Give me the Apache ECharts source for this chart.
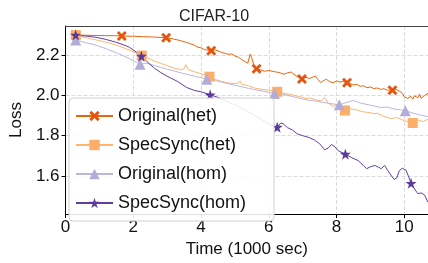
<!DOCTYPE html>
<html>
<head>
<meta charset="utf-8">
<script src="https://cdn.jsdelivr.net/npm/echarts@6/dist/echarts.min.js"></script>
<style>
  html, body { margin: 0; padding: 0; background: #fff; }
  #chart { width: 428px; height: 263px; }
</style>
</head>
<body>
<div id="chart"></div>
<script>
// 曲线数据 [时间(1000 sec), loss]
const originalHet = [
  [0.3,2.300],[0.6,2.299],[0.9,2.298],[1.2,2.297],[1.45,2.297],[1.66,2.295],[2.0,2.294],[2.3,2.292],[2.6,2.290],[2.97,2.287],
  [3.2,2.280],[3.4,2.272],[3.6,2.262],[3.8,2.250],[3.9,2.240],[4.0,2.236],[4.1,2.228],[4.2,2.225],[4.3,2.222],[4.4,2.226],
  [4.5,2.222],[4.6,2.214],[4.7,2.210],[4.8,2.204],[4.9,2.206],[5.0,2.196],[5.1,2.190],[5.2,2.178],[5.3,2.168],[5.38,2.160],
  [5.45,2.205],[5.5,2.185],[5.56,2.150],[5.64,2.132],[5.75,2.128],[5.87,2.120],[6.0,2.124],[6.16,2.118],[6.3,2.114],[6.45,2.105],
  [6.55,2.112],[6.66,2.116],[6.8,2.098],[6.98,2.081],[7.1,2.090],[7.2,2.084],[7.38,2.096],[7.45,2.080],[7.53,2.064],[7.62,2.074],
  [7.7,2.080],[7.8,2.068],[7.9,2.063],[8.0,2.072],[8.1,2.066],[8.2,2.069],[8.31,2.063],[8.4,2.060],[8.5,2.052],[8.6,2.055],
  [8.7,2.045],[8.8,2.048],[8.9,2.038],[9.0,2.042],[9.1,2.034],[9.2,2.037],[9.3,2.030],[9.4,2.033],[9.5,2.026],[9.65,2.026],
  [9.75,2.030],[9.85,2.022],[9.95,2.010],[10.0,1.992],[10.05,2.000],[10.1,1.986],[10.2,1.995],[10.25,1.982],[10.3,1.998],[10.4,1.988],
  [10.45,2.006],[10.5,1.985],[10.6,2.000],[10.65,1.992],[10.7,2.010]
];
const specSyncHet = [
  [0.3,2.300],[0.5,2.290],[0.7,2.283],[0.9,2.276],[1.1,2.268],[1.3,2.260],[1.5,2.250],[1.7,2.238],[1.9,2.224],[2.1,2.210],
  [2.25,2.198],[2.4,2.188],[2.6,2.172],[2.8,2.160],[3.0,2.148],[3.2,2.136],[3.4,2.128],[3.5,2.132],[3.55,2.153],[3.62,2.128],
  [3.8,2.118],[4.0,2.108],[4.25,2.093],[4.4,2.080],[4.6,2.070],[4.8,2.062],[5.0,2.058],[5.1,2.062],[5.15,2.072],[5.2,2.055],
  [5.4,2.048],[5.6,2.036],[5.8,2.030],[6.0,2.026],[6.25,2.018],[6.4,2.012],[6.6,2.006],[6.8,1.998],[7.0,1.990],[7.1,1.984],
  [7.2,1.988],[7.4,1.978],[7.55,1.972],[7.65,1.990],[7.75,1.962],[7.9,1.945],[8.0,1.955],[8.1,1.938],[8.25,1.925],[8.4,1.934],
  [8.6,1.928],[8.8,1.918],[9.0,1.914],[9.1,1.908],[9.2,1.912],[9.4,1.895],[9.6,1.885],[9.8,1.890],[10.0,1.874],[10.25,1.863],
  [10.4,1.878],[10.55,1.870],[10.7,1.882]
];
const originalHom = [
  [0.3,2.275],[0.6,2.262],[0.9,2.250],[1.2,2.232],[1.5,2.212],[1.8,2.190],[2.0,2.172],[2.2,2.155],[2.4,2.160],[2.6,2.150],
  [2.8,2.140],[3.0,2.130],[3.2,2.122],[3.4,2.112],[3.6,2.104],[3.8,2.096],[4.0,2.088],[4.17,2.080],[4.4,2.076],[4.6,2.066],
  [4.8,2.058],[5.0,2.050],[5.2,2.043],[5.4,2.035],[5.6,2.028],[5.8,2.022],[6.0,2.015],[6.17,2.010],[6.4,2.006],[6.6,1.998],
  [6.8,1.990],[7.0,1.982],[7.2,1.975],[7.4,1.972],[7.6,1.965],[7.8,1.960],[8.08,1.953],[8.3,1.965],[8.5,1.975],[8.7,1.962],
  [8.9,1.955],[9.1,1.948],[9.3,1.940],[9.5,1.942],[9.7,1.932],[9.9,1.928],[10.03,1.924],[10.2,1.915],[10.4,1.905],[10.55,1.900],
  [10.7,1.895]
];
const specSyncHom = [
  [0.3,2.300],[0.6,2.295],[0.9,2.289],[1.2,2.278],[1.48,2.265],[1.7,2.252],[1.88,2.240],[2.05,2.220],[2.24,2.195],[2.4,2.168],
  [2.62,2.136],[2.8,2.115],[3.0,2.095],[3.1,2.087],[3.3,2.070],[3.58,2.039],[3.8,2.025],[4.0,2.018],[4.27,2.003],[4.5,1.990],
  [4.8,1.968],[5.1,1.945],[5.4,1.918],[5.7,1.890],[5.9,1.868],[6.02,1.855],[6.25,1.842],[6.35,1.862],[6.42,1.860],[6.55,1.840],
  [6.7,1.828],[6.85,1.808],[7.0,1.800],[7.2,1.790],[7.35,1.778],[7.5,1.760],[7.65,1.730],[7.75,1.738],[7.85,1.756],[7.95,1.745],
  [8.05,1.725],[8.26,1.708],[8.45,1.690],[8.64,1.676],[8.8,1.650],[8.89,1.636],[9.0,1.645],[9.13,1.652],[9.25,1.642],[9.32,1.636],
  [9.42,1.652],[9.5,1.630],[9.6,1.605],[9.7,1.582],[9.78,1.590],[9.85,1.625],[9.94,1.638],[10.05,1.628],[10.12,1.600],[10.2,1.563],
  [10.3,1.535],[10.4,1.512],[10.5,1.515],[10.6,1.505],[10.7,1.468]
];

// 标记点所在的时间
const originalHetMarks = [0.3, 1.66, 2.97, 4.3, 5.64, 6.98, 8.31, 9.65];
const specSyncHetMarks = [0.3, 2.25, 4.25, 6.25, 8.25, 10.25];
const originalHomMarks = [0.3, 2.2, 4.17, 6.17, 8.08, 10.03];
const specSyncHomMarks = [0.3, 2.24, 4.27, 6.25, 8.26, 10.2];

const seriesNames = ['Original(het)', 'SpecSync(het)', 'Original(hom)', 'SpecSync(hom)'];
const xTicks = [0, 2, 4, 6, 8, 10];
const yTicks = [1.6, 1.8, 2.0, 2.2];

const xSymbol = 'path://M2,0 L5,3 L8,0 L10,2 L7,5 L10,8 L8,10 L5,7 L2,10 L0,8 L3,5 L0,2 Z';
const starSymbol = 'path://M5,0 L6.2,3.6 L10,3.6 L6.9,5.9 L8.1,9.5 L5,7.3 L1.9,9.5 L3.1,5.9 L0,3.6 L3.8,3.6 Z';

const font = '"Liberation Sans", Arial, sans-serif';

function makeSeries(name, points, marks, symbol, size, lineColor, markColor) {
  return {
    name: name,
    type: 'line',
    symbol: symbol,
    symbolSize: size,
    showSymbol: true,
    lineStyle: { color: lineColor, width: 1 },
    itemStyle: { color: markColor },
    emphasis: { disabled: true },
    data: points.map(p => ({
      value: p,
      symbol: marks.includes(p[0]) ? symbol : 'none'
    }))
  };
}

const chart = echarts.init(document.getElementById('chart'));

chart.setOption({
  animation: false,
  title: {
    text: 'CIFAR-10',
    left: 'center',
    top: 4,
    textStyle: { fontFamily: font, fontSize: 16, fontWeight: 'normal', color: '#222' }
  },
  grid: { left: 60, right: 0, top: 26, bottom: 44 },
  legend: {
    orient: 'vertical',
    left: 69,
    top: 98,
    data: seriesNames,
    itemWidth: 37,
    itemHeight: 13,
    itemGap: 11,
    padding: [9, 28, 9, 6],
    backgroundColor: 'rgba(255,255,255,0.88)',
    borderColor: '#d0d0d0',
    borderWidth: 1,
    borderRadius: 4,
    textStyle: { fontFamily: font, fontSize: 18, color: '#111', lineHeight: 18 }
  },
  xAxis: [
    {
      type: 'value',
      min: 0,
      max: 10.7,
      name: 'Time (1000 sec)',
      nameLocation: 'middle',
      nameGap: 22,
      nameTextStyle: { fontFamily: font, fontSize: 17, color: '#111' },
      axisLine: { lineStyle: { color: '#000', width: 1 } },
      axisTick: { show: true, length: 4, customValues: xTicks, lineStyle: { color: '#000' } },
      axisLabel: { customValues: xTicks, fontFamily: font, fontSize: 17, color: '#111', margin: 5 },
      splitLine: { show: true, lineStyle: { color: '#dcdcdc', type: 'dashed', width: 1 } }
    },
    {
      type: 'value',
      position: 'top',
      min: 0,
      max: 10.7,
      axisLine: { show: true, onZero: false, lineStyle: { color: '#444', width: 1 } },
      axisTick: { show: false },
      axisLabel: { show: false },
      splitLine: { show: false }
    }
  ],
  yAxis: {
    type: 'value',
    min: 1.41,
    max: 2.345,
    name: 'Loss',
    nameLocation: 'middle',
    nameGap: 33,
    nameTextStyle: { fontFamily: font, fontSize: 17, color: '#111' },
    axisLine: { show: true, lineStyle: { color: '#000', width: 1 } },
    axisTick: { show: true, length: 4, customValues: yTicks, lineStyle: { color: '#000' } },
    axisLabel: {
      customValues: yTicks,
      fontFamily: font,
      fontSize: 17,
      color: '#111',
      margin: 6,
      formatter: v => v.toFixed(1)
    },
    splitLine: { show: true, lineStyle: { color: '#dcdcdc', type: 'dashed', width: 1 } }
  },
  series: [
    makeSeries(seriesNames[0], originalHet, originalHetMarks, xSymbol, 10, '#e8650f', '#e6550d'),
    makeSeries(seriesNames[1], specSyncHet, specSyncHetMarks, 'rect', 10, '#fdb56f', '#fdae6b'),
    makeSeries(seriesNames[2], originalHom, originalHomMarks, 'triangle', 11, '#bbb6de', '#b3acd9'),
    makeSeries(seriesNames[3], specSyncHom, specSyncHomMarks, starSymbol, 11, '#5e3fa0', '#5b3a9a')
  ]
});

window.addEventListener('resize', () => chart.resize());
</script>
</body>
</html>
